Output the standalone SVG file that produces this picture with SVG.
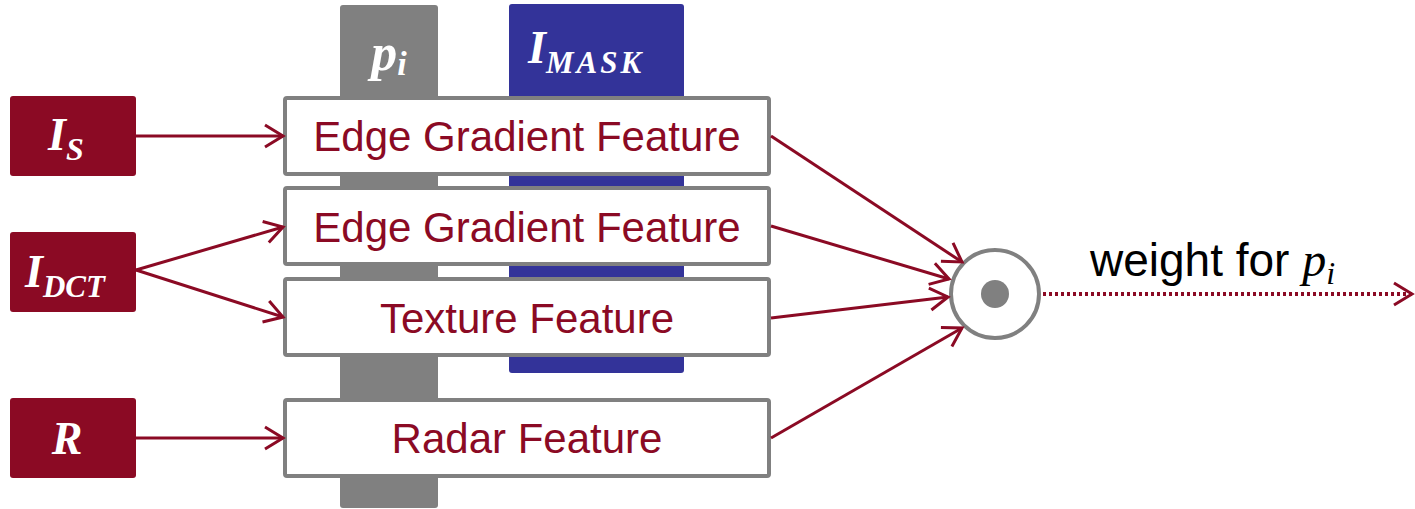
<svg xmlns="http://www.w3.org/2000/svg" width="1415" height="509" viewBox="0 0 1415 509">
<style>
.in{fill:#8B0A24}
.mt{font-family:"Liberation Serif",serif;font-style:italic;font-weight:bold;fill:#fff}
.fb{fill:#fff;stroke:#808080;stroke-width:4}
.ft{font-family:"Liberation Sans",Arial,sans-serif;font-size:42px;fill:#8B0A24;text-anchor:middle}
.ln{stroke:#8B0A24;stroke-width:3;fill:none}
</style>
<defs>
<marker id="ah" markerUnits="userSpaceOnUse" markerWidth="24" markerHeight="28" refX="20" refY="12" orient="auto" viewBox="0 0 24 24">
<path d="M2,1 L20,12 L2,23" fill="none" stroke="#8B0A24" stroke-width="3"/>
</marker>
</defs>
<g id="bar-pi">
<rect x="340" y="5" width="98" height="503" rx="3" fill="#808080"/>
<text x="389" y="70" class="mt" font-size="52" text-anchor="middle">p<tspan font-size="34" dy="5">i</tspan></text>
</g>
<g id="bar-mask">
<rect x="509" y="4" width="175" height="369" rx="3" fill="#333399"/>
<text x="528" y="63" class="mt" font-size="46">I<tspan font-size="31" dy="10" letter-spacing="3">MASK</tspan></text>
</g>
<g id="in-s">
<rect class="in" x="10" y="96" width="126" height="80" rx="3"/>
<text x="48" y="150" class="mt" font-size="46">I<tspan font-size="32" dy="10">S</tspan></text>
</g>
<g id="in-dct">
<rect class="in" x="10" y="232" width="126" height="80" rx="3"/>
<text x="25" y="287" class="mt" font-size="46">I<tspan font-size="31" dy="10">DCT</tspan></text>
</g>
<g id="in-r">
<rect class="in" x="10" y="398" width="126" height="80" rx="3"/>
<text x="67" y="454" class="mt" font-size="46" text-anchor="middle">R</text>
</g>
<g id="f1"><rect class="fb" x="285" y="98" width="484" height="76" rx="2"/><text class="ft" x="527" y="151">Edge Gradient Feature</text></g>
<g id="f2"><rect class="fb" x="285" y="188" width="484" height="76" rx="2"/><text class="ft" x="527" y="242">Edge Gradient Feature</text></g>
<g id="f3"><rect class="fb" x="285" y="279" width="484" height="76" rx="2"/><text class="ft" x="527" y="333">Texture Feature</text></g>
<g id="f4"><rect class="fb" x="285" y="400" width="484" height="76" rx="2"/><text class="ft" x="527" y="453">Radar Feature</text></g>
<g id="product">
<circle cx="995" cy="294" r="44" fill="#fff" stroke="#808080" stroke-width="4"/>
<circle cx="995" cy="294" r="14" fill="#808080"/>
</g>
<g id="out-label">
<text x="1090" y="276" font-family="Liberation Sans,Arial,sans-serif" font-size="46" fill="#000">weight for <tspan font-family="Liberation Serif,serif" font-style="italic" font-size="48">p</tspan><tspan font-family="Liberation Serif,serif" font-style="italic" font-size="32" dy="8">i</tspan></text>
</g>
<g id="connectors">
<line class="ln" x1="136" y1="136" x2="283" y2="136" marker-end="url(#ah)"/>
<line class="ln" x1="136" y1="270" x2="283" y2="227" marker-end="url(#ah)"/>
<line class="ln" x1="136" y1="270" x2="283" y2="317" marker-end="url(#ah)"/>
<line class="ln" x1="136" y1="438" x2="283" y2="438" marker-end="url(#ah)"/>
<line class="ln" x1="771" y1="136" x2="962" y2="262" marker-end="url(#ah)"/>
<line class="ln" x1="771" y1="226" x2="949" y2="279" marker-end="url(#ah)"/>
<line class="ln" x1="771" y1="318" x2="948" y2="297" marker-end="url(#ah)"/>
<line class="ln" x1="771" y1="438" x2="962" y2="328" marker-end="url(#ah)"/>
<line x1="1043" y1="294" x2="1412" y2="294" stroke="#8B0A24" stroke-width="4" stroke-dasharray="3,3" marker-end="url(#ah)"/>
</g>
</svg>
